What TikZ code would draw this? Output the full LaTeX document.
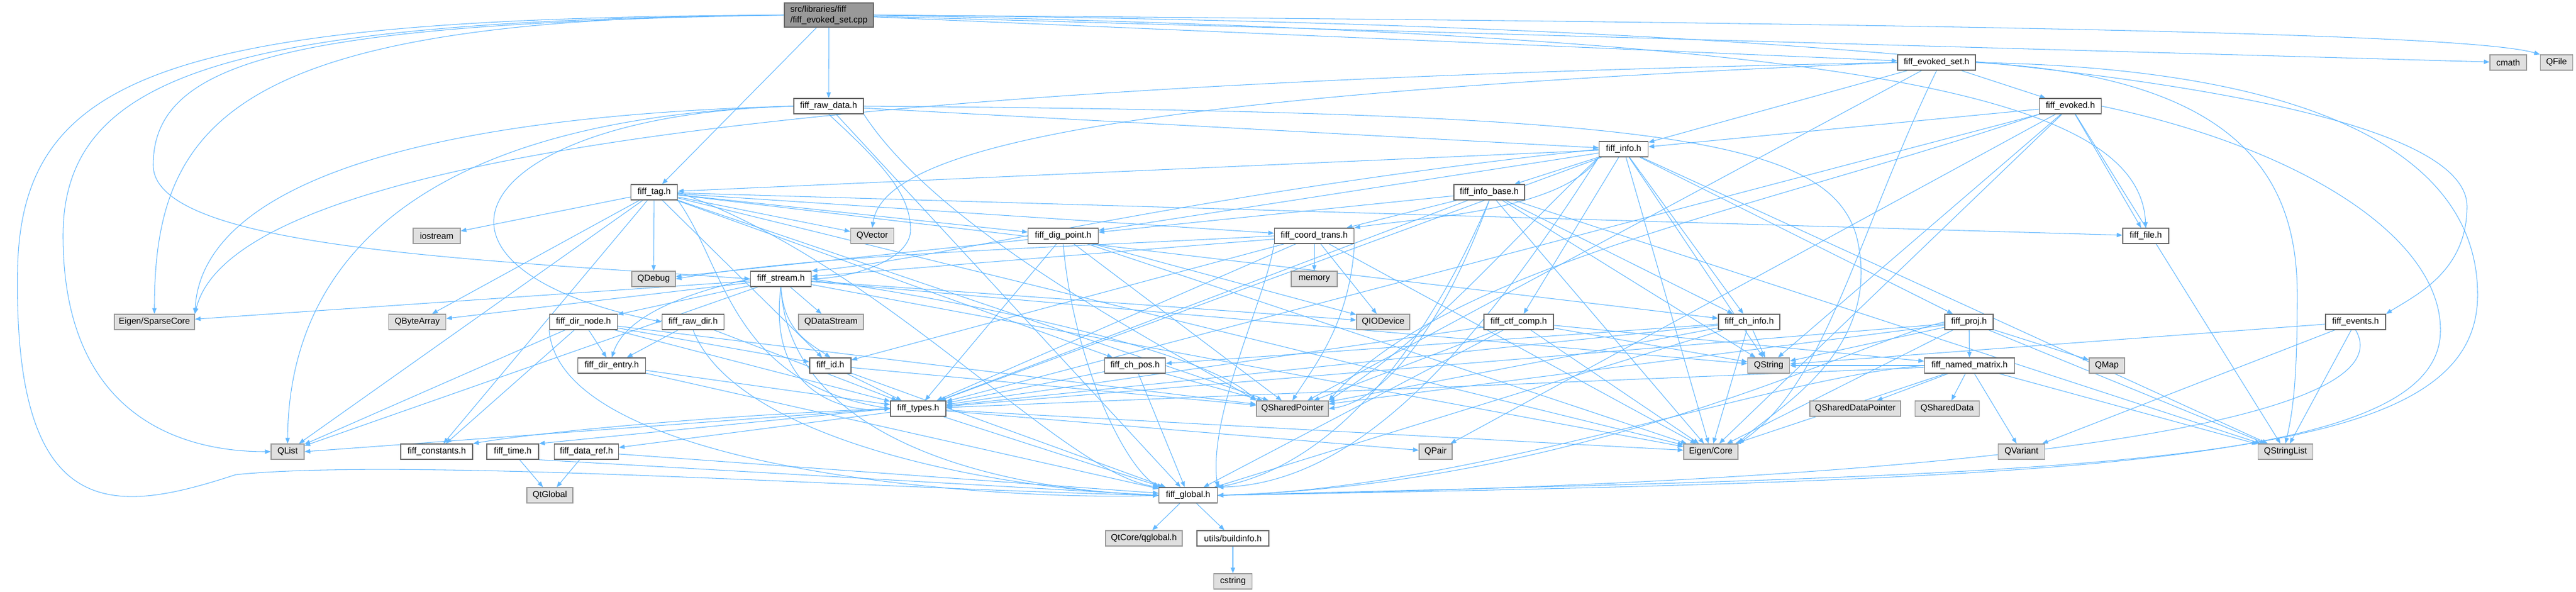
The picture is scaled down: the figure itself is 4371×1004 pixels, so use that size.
\documentclass[tikz,border=0pt]{standalone}
\usepackage{fontspec}
\setmainfont{Liberation Sans}
\usetikzlibrary{arrows.meta}
\definecolor{edgecol}{HTML}{63B8FF}
\definecolor{bordint}{HTML}{666666}
\definecolor{bordext}{HTML}{999999}
\definecolor{fillext}{HTML}{E0E0E0}
\definecolor{fillmain}{HTML}{999999}
\pgfdeclarelayer{bg}
\pgfsetlayers{bg,main}
\tikzset{
  base/.style={rectangle, draw, line width=0.8pt, minimum height=0.52cm, inner sep=0pt, font=\fontsize{8.4}{10}\selectfont},
  int/.style={base, fill=white, draw=bordint},
  ext/.style={base, fill=fillext, draw=bordext},
  mainnode/.style={base, fill=fillmain, draw=bordint, align=left, minimum height=0.82cm},
  e/.style={draw=edgecol, line width=0.6pt, -{Triangle[length=5.5pt,width=4.2pt]}}
}
\begin{document}
\begin{tikzpicture}[x=0.02cm,y=-0.02cm]
\useasboundingbox (0,0) rectangle (4371,1004);
% nodes
\node[mainnode, minimum width=3.02cm] (main) at (1406.5,25.5) {src/libraries/fiff\\/fiff\_evoked\_set.cpp};
\node[int, minimum width=2.36cm] (rawdata) at (1406,180) {fiff\_raw\_data.h};
\node[int, minimum width=1.58cm] (tag) at (1110,326) {fiff\_tag.h};
\node[ext, minimum width=1.60cm] (iostream) at (741,400) {iostream};
\node[ext, minimum width=1.48cm] (QDebug) at (1109,473) {QDebug};
\node[ext, minimum width=1.46cm] (QVector) at (1480,400) {QVector};
\node[int, minimum width=2.38cm] (digpt) at (1804,400) {fiff\_dig\_point.h};
\node[int, minimum width=2.06cm] (stream) at (1325,473) {fiff\_stream.h};
\node[int, minimum width=2.70cm] (coord) at (2230,400) {fiff\_coord\_trans.h};
\node[int, minimum width=1.66cm] (info) at (2755,253) {fiff\_info.h};
\node[int, minimum width=2.40cm] (infobase) at (2527,326) {fiff\_info\_base.h};
\node[ext, minimum width=1.56cm] (memory) at (2230,473) {memory};
\node[int, minimum width=2.64cm] (evset) at (3286,106) {fiff\_evoked\_set.h};
\node[int, minimum width=2.10cm] (evoked) at (3513,180) {fiff\_evoked.h};
\node[ext, minimum width=1.24cm] (cmath) at (4256,106) {cmath};
\node[ext, minimum width=1.10cm] (QFile) at (4338,106) {QFile};
\node[int, minimum width=1.56cm] (file) at (3641,400) {fiff\_file.h};
\node[int, minimum width=1.64cm] (proj) at (3341,546) {fiff\_proj.h};
\node[int, minimum width=2.04cm] (events) at (3997,546) {fiff\_events.h};
\node[ext, minimum width=2.72cm] (SparseCore) at (262,546) {Eigen/SparseCore};
\node[ext, minimum width=1.94cm] (QByteArray) at (708,546) {QByteArray};
\node[int, minimum width=2.30cm] (dirnode) at (990,546) {fiff\_dir\_node.h};
\node[int, minimum width=2.10cm] (rawdir) at (1176,546) {fiff\_raw\_dir.h};
\node[ext, minimum width=2.20cm] (QDataStream) at (1410,546) {QDataStream};
\node[int, minimum width=2.30cm] (direntry) at (1038,620) {fiff\_dir\_entry.h};
\node[int, minimum width=1.40cm] (id) at (1409,620) {fiff\_id.h};
\node[int, minimum width=2.06cm] (chpos) at (1926,620) {fiff\_ch\_pos.h};
\node[int, minimum width=1.88cm] (types) at (1558,693) {fiff\_types.h};
\node[ext, minimum width=2.44cm] (QSharedPointer) at (2193,693) {QSharedPointer};
\node[int, minimum width=1.98cm] (global) at (2016,840) {fiff\_global.h};
\node[ext, minimum width=2.60cm] (qglobal) at (1941,913) {QtCore/qglobal.h};
\node[int, minimum width=2.44cm] (buildinfo) at (2092,913) {utils/buildinfo.h};
\node[ext, minimum width=1.30cm] (cstring) at (2092,986) {cstring};
\node[ext, minimum width=1.80cm] (QIODevice) at (2347,546) {QIODevice};
\node[int, minimum width=2.36cm] (ctf) at (2577,546) {fiff\_ctf\_comp.h};
\node[int, minimum width=2.08cm] (chinfo) at (2968,546) {fiff\_ch\_info.h};
\node[ext, minimum width=1.42cm] (QString) at (3001,620) {QString};
\node[int, minimum width=3.06cm] (named) at (3342,620) {fiff\_named\_matrix.h};
\node[ext, minimum width=3.08cm] (QSharedDataPointer) at (3148,693) {QSharedDataPointer};
\node[ext, minimum width=2.18cm] (QSharedData) at (3304,693) {QSharedData};
\node[ext, minimum width=1.12cm] (QPair) at (2436,766) {QPair};
\node[ext, minimum width=1.84cm] (EigenCore) at (2903,766) {Eigen/Core};
\node[ext, minimum width=1.20cm] (QMap) at (3575,620) {QMap};
\node[ext, minimum width=1.58cm] (QVariant) at (3430,766) {QVariant};
\node[ext, minimum width=1.86cm] (QStringList) at (3878,766) {QStringList};
\node[ext, minimum width=1.12cm] (QList) at (488,766) {QList};
\node[int, minimum width=2.44cm] (constants) at (741,766) {fiff\_constants.h};
\node[int, minimum width=1.76cm] (time) at (870,766) {fiff\_time.h};
\node[int, minimum width=2.18cm] (dataref) at (995,766) {fiff\_data\_ref.h};
\node[ext, minimum width=1.56cm] (QtGlobal) at (933,840) {QtGlobal};
% edges
\begin{pgfonlayer}{bg}
\foreach \s/\t in {main/evset, main/rawdata, main/tag, main/cmath,
  rawdata/info, rawdata/global,
  evset/evoked, evset/info, evset/QSharedPointer,
  evoked/info, evoked/file, evoked/types, evoked/QString, evoked/QStringList, evoked/EigenCore, evoked/QPair,
  info/infobase, info/chinfo, info/ctf, info/proj, info/digpt, info/types, info/QString, info/QStringList, info/EigenCore, info/tag,
  infobase/coord, infobase/chinfo, infobase/digpt, infobase/types, infobase/QString, infobase/QStringList, infobase/EigenCore,
  tag/iostream, tag/QDebug, tag/QVector, tag/digpt, tag/coord, tag/chinfo, tag/chpos, tag/id, tag/EigenCore, tag/QByteArray, tag/QList, tag/QSharedPointer, tag/constants, tag/file,
  stream/dirnode, stream/QDataStream, stream/QIODevice, stream/QByteArray, stream/SparseCore, stream/QList, stream/EigenCore, stream/QString,
  coord/memory, coord/stream, coord/types, coord/EigenCore, coord/QIODevice, coord/id,
  digpt/QDebug, digpt/types, digpt/EigenCore, digpt/QSharedPointer, digpt/QIODevice,
  chinfo/chpos, chinfo/types, chinfo/global, chinfo/QString, chinfo/EigenCore, chinfo/QSharedPointer,
  chpos/types, chpos/global, chpos/QSharedPointer,
  ctf/named, ctf/types, ctf/global, ctf/EigenCore, ctf/QSharedPointer, ctf/QString,
  proj/named, proj/QMap, proj/QString, proj/QStringList, proj/types, proj/EigenCore, proj/QSharedPointer,
  named/QSharedData, named/QSharedDataPointer, named/types, named/EigenCore, named/QStringList, named/QString, named/QVariant,
  events/QString, events/QStringList, events/QVariant,
  dirnode/direntry, dirnode/id, dirnode/types, dirnode/QList, dirnode/constants, dirnode/QSharedPointer,
  direntry/types, direntry/global,
  rawdir/direntry, rawdir/types,
  id/types, id/global, id/QSharedPointer,
  types/global, types/dataref, types/EigenCore, types/QPair,
  time/QtGlobal, dataref/QtGlobal, dataref/global,
  global/qglobal, global/buildinfo, buildinfo/cstring}
  \draw[e] (\s) -- (\t);
% curved / routed connectors
\draw[e] (main.east) .. controls (3500,40) and (4200,60) .. (QFile.north west);
\draw[e] (rawdata.south) .. controls (1500,280) and (1545,330) .. (1545,390) .. controls (1545,440) and (1450,470) .. (stream.east);
\draw[e] (rawdata.east) .. controls (2800,190) and (3100,230) .. (3150,400) .. controls (3200,600) and (3000,700) .. (EigenCore.north east);
\draw[e] (rawdata.south east) .. controls (1600,400) and (2000,600) .. (QSharedPointer.north west);
\draw[e] (evset.south) .. controls (3150,400) and (3100,650) .. (EigenCore.north east);
\draw[e] (evoked.south west) .. controls (3000,350) and (2460,450) .. (QSharedPointer.north east);
\draw[e] (info.south west) .. controls (2650,360) and (2400,370) .. (coord.north east);
\draw[e] (info.south west) .. controls (2500,600) and (2300,820) .. (global.north east);
\draw[e] (info.south west) .. controls (2550,420) and (2440,560) .. (QSharedPointer.north east);
\draw[e] (info.west) .. controls (2000,330) and (1600,440) .. (stream.north east);
\draw[e] (infobase.south) .. controls (2450,520) and (2300,780) .. (global.north east);
\draw[e] (infobase.south) .. controls (2450,550) and (2350,680) .. (QSharedPointer.east);
\draw[e] (tag.south east) .. controls (1230,450) and (1240,650) .. (types.west);
\draw[e] (tag.east) .. controls (1500,450) and (1800,800) .. (global.north west);
\draw[e] (stream.west) .. controls (1150,500) and (1060,540) .. (direntry.north);
\draw[e] (stream.south) .. controls (1330,560) and (1370,580) .. (id.north);
\draw[e] (stream.south) .. controls (1300,680) and (1450,700) .. (types.west);
\draw[e] (stream.south) .. controls (1340,750) and (1700,830) .. (global.west);
\draw[e] (stream.east) .. controls (1700,520) and (2050,600) .. (QSharedPointer.north west);
\draw[e] (coord.south west) .. controls (2150,500) and (2050,700) .. (global.north east);
\draw[e] (coord.south east) .. controls (2290,550) and (2230,620) .. (QSharedPointer.north);
\draw[e] (coord.west) .. controls (1800,420) and (1400,430) .. (QDebug.east);
\draw[e] (digpt.south) .. controls (1820,600) and (1900,780) .. (global.north west);
\draw[e] (proj.west) .. controls (3150,580) and (2700,820) .. (global.east);
\draw[e] (named.west) .. controls (3000,640) and (2500,830) .. (global.east);
\draw[e] (dirnode.south west) .. controls (950,800) and (1700,850) .. (global.west);
\draw[e] (rawdir.south) .. controls (1250,750) and (1700,830) .. (global.west);
\draw[e] (types.west) .. controls (1200,705) and (900,735) .. (constants.north east);
\draw[e] (types.west) -- (time.north east);
\draw[e] (types.west) -- (QList.east);
\draw[e] (time.south east) -- (global.west);
% left loops
\draw[e] (main.west) .. controls (400,30) and (262,200) .. (SparseCore.north);
\draw[e] (main.west) .. controls (400,35) and (107,120) .. (107,400) .. controls (107,700) and (300,766) .. (QList.west);
\draw[e] (main.west) .. controls (500,40) and (260,100) .. (260,280) .. controls (260,420) and (800,440) .. (stream.west);
\draw[e] (main.west) .. controls (300,30) and (40,120) .. (30,450) .. controls (20,900) and (200,870) .. (400,805) .. controls (700,775) and (1500,830) .. (global.west);
\draw[e] (rawdata.west) .. controls (600,200) and (340,350) .. (SparseCore.north east);
\draw[e] (rawdata.west) .. controls (700,200) and (490,450) .. (QList.north);
\draw[e] (rawdata.west) .. controls (800,195) and (650,450) .. (rawdir.west);
\draw[e] (evset.west) .. controls (1500,140) and (400,250) .. (SparseCore.north east);
\draw[e] (evset.west) .. controls (1900,160) and (1500,250) .. (QVector.north);
% right loops
\draw[e] (main.east) .. controls (3100,60) and (3630,150) .. (file.north);
\draw[e] (main.east) .. controls (3200,40) and (4186,150) .. (4186,350) .. controls (4186,460) and (4100,500) .. (events.north east);
\draw[e] (evset.east) .. controls (3800,130) and (3898,300) .. (3898,500) .. controls (3898,650) and (3890,700) .. (QStringList.north);
\draw[e] (evset.east) .. controls (3900,115) and (4204,250) .. (4204,500) .. controls (4204,800) and (3600,800) .. (global.east);
\draw[e] (evoked.east) .. controls (3900,250) and (4141,400) .. (4141,560) .. controls (4141,790) and (3500,815) .. (global.east);
\draw[e] (events.south) .. controls (4080,700) and (3500,815) .. (global.east);
\end{pgfonlayer}
\end{tikzpicture}
\end{document}
